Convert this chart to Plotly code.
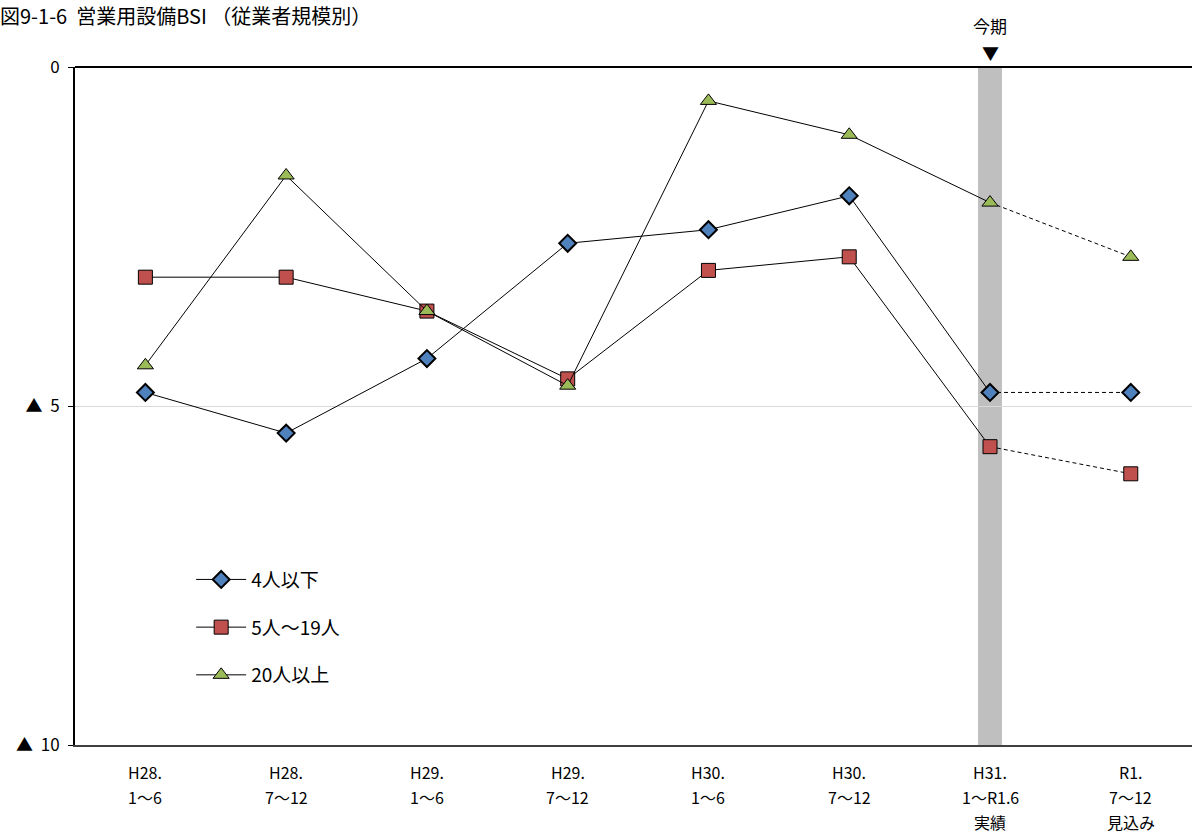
import plotly.graph_objects as go

categories = [
    "H28.<br>1～6",
    "H28.<br>7～12",
    "H29.<br>1～6",
    "H29.<br>7～12",
    "H30.<br>1～6",
    "H30.<br>7～12",
    "H31.<br>1～R1.6<br>実績",
    "R1.<br>7～12<br>見込み",
]
series_names = ["4人以下", "5人～19人", "20人以上"]
le4 = [-4.8, -5.4, -4.3, -2.6, -2.4, -1.9, -4.8, -4.8]
p5_19 = [-3.1, -3.1, -3.6, -4.6, -3.0, -2.8, -5.6, -6.0]
ge20 = [-4.4, -1.6, -3.6, -4.7, -0.5, -1.0, -2.0, -2.8]
y_ticks = [0, -5, -10]
y_ticktext = ["0", "▲\u00a0\u00a05", "▲\u00a0\u00a010"]
current_idx = 6  # 今期

FONT = "Noto Sans CJK JP, sans-serif"
styles = [
    dict(symbol="diamond", color="#4F81BD", size=13, lw=2),
    dict(symbol="square", color="#C0504D", size=14, lw=1),
    dict(symbol="triangle-up", color="#9BBB59", size=14, lw=1),
]

xs = list(range(len(categories)))
fig = go.Figure()

# current period band
fig.add_shape(type="rect", xref="x", yref="paper", x0=current_idx - 0.085, x1=current_idx + 0.085,
              y0=0, y1=1, fillcolor="#BFBFBF", line_width=0, layer="below")

for name, vals, st in zip(series_names, [le4, p5_19, ge20], styles):
    marker = dict(symbol=st["symbol"], color=st["color"], size=st["size"],
                  line=dict(color="black", width=st["lw"]))
    # forecast segment (dashed)
    fig.add_trace(go.Scatter(
        x=xs[current_idx:], y=vals[current_idx:], mode="lines",
        line=dict(color="black", width=1, dash="4px,3px"), showlegend=False, hoverinfo="skip",
    ))
    fig.add_trace(go.Scatter(
        x=xs[:current_idx + 1], y=vals[:current_idx + 1], mode="lines",
        line=dict(color="black", width=1), showlegend=False, hoverinfo="skip",
    ))
    fig.add_trace(go.Scatter(
        x=xs, y=vals, mode="markers", name=name, legendgroup=name,
        marker=marker, showlegend=False,
    ))
    # legend entry (line + marker)
    fig.add_trace(go.Scatter(
        x=[None], y=[None], mode="lines+markers", name=name, legendgroup=name,
        marker=marker, line=dict(color="black", width=1),
    ))

# x tick labels as annotations (multi-line)
for i, lab in enumerate(categories):
    for j, line in enumerate(lab.split("<br>")):
        fig.add_annotation(x=i, y=0, xref="x", yref="paper", text=line, showarrow=False,
                           yanchor="middle", yshift=-27 - 25 * j,
                           font=dict(family=FONT, size=16, color="black"))

fig.add_annotation(x=current_idx, y=1, xref="x", yref="paper", text="今期", showarrow=False,
                   yshift=56, font=dict(family=FONT, size=17, color="black"))
fig.add_annotation(x=current_idx, y=1, xref="x", yref="paper", text="▼", showarrow=False,
                   yshift=29, font=dict(family=FONT, size=17, color="black"))

fig.update_layout(
    width=1192, height=838,
    margin=dict(l=75, r=0, t=67, b=93),
    paper_bgcolor="white", plot_bgcolor="white",
    font=dict(family=FONT, size=16, color="black"),
    title=dict(text="図9-1-6  営業用設備BSI （従業者規模別）", x=0.0, xanchor="left",
               y=0.988, yanchor="top", font=dict(family=FONT, size=20, color="black")),
    showlegend=True,
    legend=dict(x=0.104, y=0.272, xanchor="left", yanchor="top", bgcolor="rgba(0,0,0,0)",
                tracegroupgap=20, itemwidth=50, font=dict(family=FONT, size=19, color="black")),
    xaxis=dict(range=[-0.5, 7.435], tickvals=xs, showticklabels=False, showgrid=False,
               zeroline=False, showline=True, linecolor="#404040", linewidth=2, mirror=False,
               fixedrange=True),
    yaxis=dict(range=[-10, 0], tickvals=y_ticks, ticktext=y_ticktext, showgrid=True,
               gridcolor="#D9D9D9", gridwidth=1, zeroline=False, showline=True,
               linecolor="black", linewidth=2, ticks="outside", ticklen=5, tickcolor="black",
               ticklabelstandoff=5, tickfont=dict(family=FONT, size=17, color="black")),
)
fig.add_shape(type="line", xref="paper", yref="paper", x0=0, x1=1, y0=1, y1=1,
              line=dict(color="black", width=2))

fig.write_html("out.html", config={"displayModeBar": False},
               post_script="document.body.style.margin='0';")
